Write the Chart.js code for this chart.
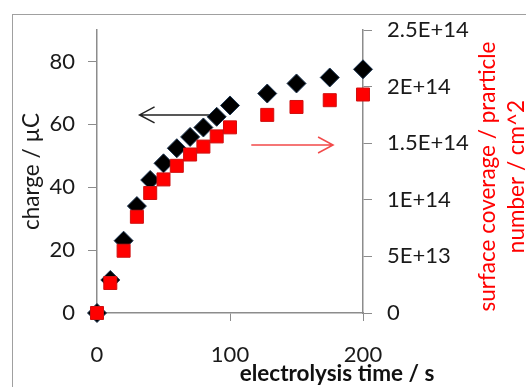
<!DOCTYPE html>
<html>
<head>
<meta charset="utf-8">
<script src="https://cdn.jsdelivr.net/npm/chart.js@4.4.1/dist/chart.umd.min.js"></script>
<style>
  html, body { margin: 0; padding: 0; background: #fff; }
  #wrap { width: 526px; height: 387px; }
</style>
</head>
<body>
<div id="wrap"><canvas id="chart" width="526" height="387"></canvas></div>
<script>
// electrolysis time (s)
const times = [0, 10, 20, 30, 40, 50, 60, 70, 80, 90, 100, 128, 150, 175, 200];
// charge (µC), left axis
const charge = [0, 10.5, 23, 34, 42.3, 47.6, 52.4, 56, 59, 62.4, 66, 69.8, 73, 74.9, 77.5];
// surface coverage (particles / cm^2), right axis
const coverage = [0, 2.65e13, 5.5e13, 8.5e13, 1.06e14, 1.18e14, 1.30e14, 1.40e14, 1.47e14, 1.56e14, 1.64e14, 1.75e14, 1.82e14, 1.88e14, 1.93e14];

const xTicks = [0, 100, 200];
const chargeTicks = [0, 20, 40, 60, 80];
const coverageTicks = [0, 5e13, 1e14, 1.5e14, 2e14, 2.5e14];

// arrows pointing to each axis, in data units: [x from, x to, y]
const chargeArrow = [88, 32, 63];
const coverageArrow = [116, 177.5, 1.484e14];

const fontName = "Lato, 'Open Sans', sans-serif";
const axisGray = "#8c8c8c";

function sciLabel(v) {
  if (v === 0) return "0";
  const e = Math.floor(Math.log10(v) + 1e-9);
  const m = Number((v / Math.pow(10, e)).toPrecision(3));
  return m + "E+" + e;
}

function arrow(ctx, x1, x2, y, color, width) {
  const dir = x2 > x1 ? 1 : -1;
  ctx.save();
  ctx.strokeStyle = color;
  ctx.lineWidth = width;
  ctx.beginPath();
  ctx.moveTo(x1, y);
  ctx.lineTo(x2, y);
  ctx.moveTo(x2 - dir * 15, y - 8);
  ctx.lineTo(x2, y);
  ctx.lineTo(x2 - dir * 15, y + 8);
  ctx.stroke();
  ctx.restore();
}

const extras = {
  id: "extras",
  beforeDraw(chart) {
    const ctx = chart.ctx;
    ctx.save();
    ctx.strokeStyle = "#a0a0a0";
    ctx.lineWidth = 1;
    ctx.strokeRect(12.5, 14.5, 700, 700);
    ctx.restore();
  },
  beforeDatasetsDraw(chart) {
    const s = chart.scales;
    const ctx = chart.ctx;
    arrow(ctx, s.x.getPixelForValue(chargeArrow[0]), s.x.getPixelForValue(chargeArrow[1]),
      s.y.getPixelForValue(chargeArrow[2]), "#222", 1.5);
    arrow(ctx, s.x.getPixelForValue(coverageArrow[0]), s.x.getPixelForValue(coverageArrow[1]),
      s.y2.getPixelForValue(coverageArrow[2]), "#f24a4a", 1.5);
  },
  afterDraw(chart) {
    const ctx = chart.ctx;
    const a = chart.chartArea;
    const midY = (a.top + a.bottom) / 2;
    ctx.save();
    ctx.textAlign = "center";
    ctx.textBaseline = "middle";

    ctx.fillStyle = "#111";
    ctx.font = "bold 22.5px " + fontName;
    ctx.fillText("electrolysis time / s", a.right - 26, 374);

    ctx.save();
    ctx.translate(32, midY);
    ctx.rotate(-Math.PI / 2);
    ctx.font = "22.5px " + fontName;
    ctx.fillStyle = "#1a1a1a";
    ctx.fillText("charge / µC", 0, 0);
    ctx.restore();

    ctx.save();
    ctx.fillStyle = "#ff0000";
    ctx.font = "22.5px " + fontName;
    ctx.translate(488, midY + 5);
    ctx.rotate(-Math.PI / 2);
    ctx.fillText("surface coverage / prarticle", 0, 0);
    ctx.fillText("number / cm^2", 0, 29);
    ctx.restore();

    ctx.restore();
  }
};

function pickTicks(list) {
  return function (scale) {
    scale.ticks = list.map(v => ({ value: v }));
  };
}

new Chart(document.getElementById("chart"), {
  type: "scatter",
  data: {
    datasets: [
      {
        label: "surface coverage",
        data: times.map((t, i) => ({ x: t, y: coverage[i] })),
        yAxisID: "y2",
        pointStyle: "rect",
        pointRadius: 9.2,
        pointBackgroundColor: "#ff0000",
        pointBorderColor: "#d01010",
        pointBorderWidth: 1,
        order: 0,
        clip: false
      },
      {
        label: "charge",
        data: times.map((t, i) => ({ x: t, y: charge[i] })),
        yAxisID: "y",
        pointStyle: "rectRot",
        pointRadius: 9.5,
        pointBackgroundColor: "#000",
        pointBorderColor: "#1c3552",
        pointBorderWidth: 1,
        order: 1,
        clip: false
      }
    ]
  },
  options: {
    responsive: false,
    animation: false,
    events: [],
    layout: { padding: { top: 30, left: 0, right: 0, bottom: 0 } },
    plugins: { legend: { display: false }, tooltip: { enabled: false } },
    scales: {
      x: {
        type: "linear",
        min: 0,
        max: 200,
        afterBuildTicks: pickTicks(xTicks),
        afterFit(scale) { scale.height = 74; },
        grid: {
          drawOnChartArea: false,
          tickLength: 8,
          tickColor: c => (c.tick && c.tick.value === 0 ? "rgba(0,0,0,0)" : axisGray)
        },
        border: { color: axisGray, width: 1.5 },
        ticks: { color: "#1a1a1a", font: { family: fontName, size: 22 }, padding: 21, maxRotation: 0 }
      },
      y: {
        position: "left",
        min: 0,
        max: 90,
        afterBuildTicks: pickTicks(chargeTicks),
        afterFit(scale) { scale.width = 97; },
        grid: { drawOnChartArea: false, tickLength: 9, tickColor: axisGray },
        border: { color: axisGray, width: 1.5 },
        ticks: { color: "#1a1a1a", font: { family: fontName, size: 22 }, padding: 13 }
      },
      y2: {
        position: "right",
        min: 0,
        max: 2.5e14,
        afterBuildTicks: pickTicks(coverageTicks),
        afterFit(scale) { scale.width = 163; },
        grid: { drawOnChartArea: false, tickLength: 9, tickColor: axisGray },
        border: { color: axisGray, width: 1.5 },
        ticks: {
          color: "#1a1a1a",
          font: { family: fontName, size: 22 },
          padding: 15,
          callback: v => sciLabel(v)
        }
      }
    }
  },
  plugins: [extras]
});
</script>
</body>
</html>
